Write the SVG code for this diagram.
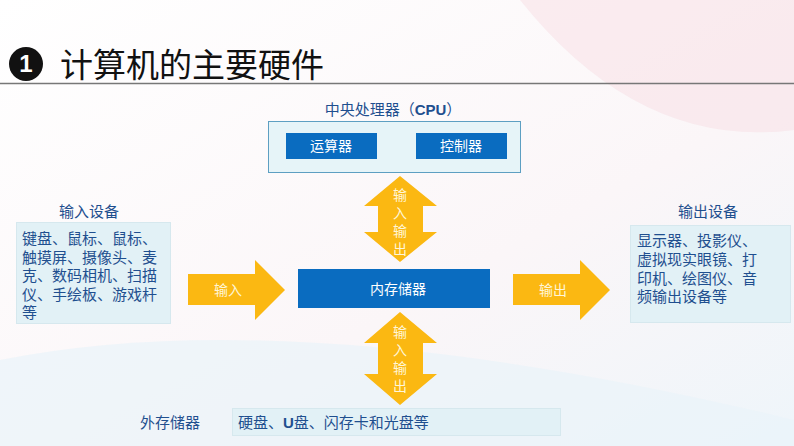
<svg xmlns="http://www.w3.org/2000/svg" width="794" height="446" viewBox="0 0 794 446">
<style>
.t{font-family:"Liberation Sans","Noto Sans CJK SC",sans-serif;fill:#1f4f8f;font-size:15px}
.w{font-family:"Liberation Sans","Noto Sans CJK SC",sans-serif;fill:#ffffff;font-size:14px}
.y{font-family:"Liberation Sans","Noto Sans CJK SC",sans-serif;fill:#fff6d8;font-size:14px}
.blue{fill:#0a6cc0}
.pale{fill:#e2f1f6;stroke:#d6e8ee;stroke-width:1}
.arr{fill:#fbb812}
</style>
<defs>
<linearGradient id="bg" x1="0" y1="0" x2="1" y2="1">
<stop offset="0" stop-color="#ffffff"/><stop offset="0.6" stop-color="#fbf6f8"/><stop offset="1" stop-color="#eef5fa"/>
</linearGradient>
</defs>
<rect width="794" height="446" fill="url(#bg)"/>
<path d="M520 0 Q640 150 794 130 L794 0 Z" fill="#f7dde3" opacity="0.5"/>
<path d="M0 360 Q300 300 794 420 L794 446 L0 446 Z" fill="#e9f3f9" opacity="0.7"/>
<g id="title">
<circle cx="26" cy="64" r="17" fill="#111"/>
<text x="26" y="72" text-anchor="middle" font-family="Liberation Sans,sans-serif" font-weight="bold" font-size="24" fill="#fff">1</text>
<text x="60" y="77" font-family="'Noto Sans CJK SC',sans-serif" font-size="33" fill="#111">计算机的主要硬件</text>
<line x1="0" y1="83.5" x2="794" y2="83.5" stroke="#777" stroke-width="1.5"/>
</g>
<g id="cpu">
<text class="t" x="393" y="115" text-anchor="middle">中央处理器（<tspan font-weight="bold">CPU</tspan>）</text>
<rect x="268.5" y="121.5" width="252" height="51" fill="#e6f4f8" stroke="#5d9fc2"/>
<rect class="blue" x="286" y="133" width="91" height="26"/>
<text class="w" x="331" y="151" text-anchor="middle">运算器</text>
<rect class="blue" x="416" y="133" width="91" height="26"/>
<text class="w" x="461" y="151" text-anchor="middle">控制器</text>
</g>
<g id="connectors">
<path class="arr" d="M400 176 L437 206 L423 206 L423 232 L437 232 L400 262 L364 232 L378 232 L378 206 L364 206 Z"/>
<text class="y" x="400" y="200" text-anchor="middle">输</text>
<text class="y" x="400" y="218" text-anchor="middle">入</text>
<text class="y" x="400" y="236" text-anchor="middle">输</text>
<text class="y" x="400" y="254" text-anchor="middle">出</text>
<path class="arr" d="M400 312 L437 343 L423 343 L423 374 L437 374 L400 405 L364 374 L378 374 L378 343 L364 343 Z"/>
<text class="y" x="400" y="337" text-anchor="middle">输</text>
<text class="y" x="400" y="355" text-anchor="middle">入</text>
<text class="y" x="400" y="373" text-anchor="middle">输</text>
<text class="y" x="400" y="391" text-anchor="middle">出</text>
<path class="arr" d="M188 274 L255 274 L255 260 L285 290 L255 320 L255 305 L188 305 Z"/>
<text class="y" x="214" y="295">输入</text>
<path class="arr" d="M513 274 L580 274 L580 260 L610 290 L580 320 L580 305 L513 305 Z"/>
<text class="y" x="539" y="295">输出</text>
</g>
<g id="memory">
<rect class="blue" x="298" y="269" width="192" height="39"/>
<text class="w" x="398" y="294" text-anchor="middle">内存储器</text>
</g>
<g id="input">
<text class="t" x="89" y="217" text-anchor="middle">输入设备</text>
<rect class="pale" x="16.5" y="222.5" width="154" height="101"/>
<text class="t" font-size="16"><tspan x="22" y="244">键盘、鼠标、鼠标、</tspan><tspan x="22" y="263">触摸屏、摄像头、麦</tspan><tspan x="22" y="281">克、数码相机、扫描</tspan><tspan x="22" y="300">仪、手绘板、游戏杆</tspan><tspan x="22" y="318">等</tspan></text>
</g>
<g id="output">
<text class="t" x="708" y="217" text-anchor="middle">输出设备</text>
<rect class="pale" x="630.5" y="225.5" width="160" height="97"/>
<text class="t"><tspan x="637" y="246">显示器、投影仪、</tspan><tspan x="637" y="265">虚拟现实眼镜、打</tspan><tspan x="637" y="284">印机、绘图仪、音</tspan><tspan x="637" y="302">频输出设备等</tspan></text>
</g>
<g id="external">
<text class="t" x="170" y="428" text-anchor="middle">外存储器</text>
<rect class="pale" x="232.5" y="408.5" width="328" height="27"/>
<text class="t" x="238" y="428">硬盘、<tspan font-weight="bold">U</tspan>盘、闪存卡和光盘等</text>
</g>
</svg>
